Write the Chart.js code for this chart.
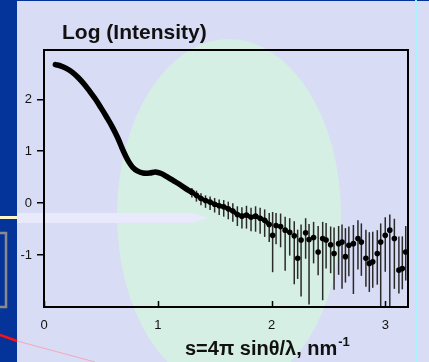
<!DOCTYPE html>
<html>
<head>
<meta charset="utf-8">
<script src="https://cdn.jsdelivr.net/npm/chart.js@4.4.1/dist/chart.umd.min.js"></script>
<style>
  body { margin: 0; background: #d8dcf4; }
  canvas { display: block; }
</style>
</head>
<body>
<canvas id="saxsChart" width="429" height="362"></canvas>
<script>
// smooth low-angle part of the curve
var curveX = [0.10, 0.15, 0.20, 0.25, 0.30, 0.35, 0.40, 0.45, 0.50, 0.55, 0.60, 0.65, 0.69, 0.72, 0.75, 0.78, 0.82, 0.87, 0.93, 0.98, 1.03, 1.08, 1.14, 1.20, 1.26, 1.30];
var curveY = [2.67, 2.64, 2.59, 2.52, 2.42, 2.30, 2.16, 2.01, 1.84, 1.66, 1.47, 1.25, 1.04, 0.90, 0.78, 0.69, 0.62, 0.58, 0.58, 0.60, 0.57, 0.51, 0.43, 0.35, 0.26, 0.21];

// noisy high-angle points with error bars
var tailX = [1.30, 1.34, 1.38, 1.42, 1.46, 1.50, 1.54, 1.58, 1.62, 1.66, 1.70, 1.74, 1.78, 1.82, 1.86, 1.90, 1.94, 1.98,
             2.01, 2.04, 2.08, 2.12, 2.16, 2.20, 2.23, 2.26, 2.30, 2.33, 2.37, 2.41, 2.45, 2.48, 2.52, 2.55, 2.59, 2.62,
             2.65, 2.68, 2.72, 2.76, 2.79, 2.83, 2.86, 2.89, 2.93, 2.96, 3.00, 3.04, 3.08, 3.12, 3.15, 3.18];
var tailY = [0.21, 0.15, 0.09, 0.05, 0.02, -0.02, -0.05, -0.07, -0.11, -0.15, -0.22, -0.25, -0.23, -0.27, -0.25, -0.29, -0.33, -0.41,
             -0.62, -0.43, -0.45, -0.52, -0.56, -0.63, -1.06, -0.71, -0.57, -0.70, -0.66, -0.94, -0.68, -0.71, -0.80, -0.97, -0.78, -0.75,
             -1.03, -0.81, -0.78, -0.68, -0.75, -1.06, -1.16, -1.13, -0.97, -0.75, -0.62, -0.52, -0.68, -1.29, -1.26, -0.94];
var errUp = [0.08, 0.09, 0.10, 0.10, 0.11, 0.12, 0.12, 0.13, 0.14, 0.15, 0.16, 0.17, 0.18, 0.18, 0.19, 0.20, 0.21, 0.22,
             0.45, 0.24, 0.25, 0.26, 0.27, 0.28, 0.55, 0.30, 0.28, 0.30, 0.30, 0.50, 0.32, 0.33, 0.35, 0.50, 0.34, 0.34,
             0.55, 0.36, 0.36, 0.35, 0.36, 0.55, 0.60, 0.58, 0.45, 0.36, 0.35, 0.30, 0.38, 0.65, 0.62, 0.50];
var errDown = [0.10, 0.12, 0.13, 0.14, 0.15, 0.16, 0.18, 0.19, 0.20, 0.21, 0.22, 0.24, 0.26, 0.27, 0.30, 0.30, 0.32, 0.34,
               0.71, 0.36, 0.40, 0.78, 0.45, 0.93, 0.40, 1.09, 0.50, 1.25, 0.50, 0.45, 1.19, 0.55, 0.55, 0.70, 0.60, 0.90,
               0.50, 0.60, 0.97, 0.60, 0.65, 0.55, 0.55, 0.50, 0.60, 1.25, 0.70, 1.48, 0.97, 0.45, 0.40, 0.55];

var xTicks = [0, 1, 2, 3];
var yTicks = [-1, 0, 1, 2];
var yTitle = 'Log (Intensity)';
var xTitle = 's=4\u03c0 sin\u03b8/\u03bb, nm';
var xTitleSup = '-1';

var FONT = '"Liberation Sans", Arial, sans-serif';

// slide decorations behind the chart
var slideBackground = {
  id: 'slideBackground',
  beforeDraw: function (chart) {
    var ctx = chart.ctx;
    ctx.save();
    ctx.fillStyle = '#d8dcf4';
    ctx.fillRect(0, 0, chart.width, chart.height);
    ctx.fillStyle = '#d6efe4';
    ctx.beginPath();
    ctx.ellipse(229, 215, 112, 176, 0, 0, Math.PI * 2);
    ctx.fill();
    // light arrow
    ctx.fillStyle = '#e8e9fb';
    ctx.beginPath();
    ctx.moveTo(17, 213);
    ctx.lineTo(192, 213);
    ctx.lineTo(208, 218);
    ctx.lineTo(192, 223);
    ctx.lineTo(17, 223);
    ctx.closePath();
    ctx.fill();
    // blue strip
    ctx.fillStyle = '#04349a';
    ctx.fillRect(0, 0, 17, chart.height);
    ctx.fillRect(0, 0, chart.width, 1);
    ctx.fillStyle = '#fbf6c8';
    ctx.fillRect(0, 216, 17, 3);
    ctx.strokeStyle = '#8a8a8a';
    ctx.lineWidth = 2.5;
    ctx.strokeRect(-4, 233, 10, 74);
    ctx.strokeStyle = '#ff1010';
    ctx.lineWidth = 2.5;
    ctx.beginPath();
    ctx.moveTo(0, 335);
    ctx.lineTo(17, 341);
    ctx.stroke();
    ctx.strokeStyle = '#f3a8c0';
    ctx.lineWidth = 1;
    ctx.beginPath();
    ctx.moveTo(17, 341);
    ctx.lineTo(95, 362);
    ctx.stroke();
    ctx.strokeStyle = '#a8f2ff';
    ctx.lineWidth = 2;
    ctx.beginPath();
    ctx.moveTo(416, 0);
    ctx.lineTo(416, chart.height);
    ctx.stroke();
    ctx.restore();
  }
};

var errorBars = {
  id: 'errorBars',
  beforeDatasetsDraw: function (chart) {
    var ctx = chart.ctx, xs = chart.scales.x, ys = chart.scales.y, a = chart.chartArea;
    ctx.save();
    ctx.beginPath();
    ctx.rect(a.left, a.top, a.right - a.left, a.bottom - a.top);
    ctx.clip();
    ctx.strokeStyle = '#2a2a2a';
    ctx.lineWidth = 1.5;
    for (var i = 0; i < tailX.length; i++) {
      var px = xs.getPixelForValue(tailX[i]);
      ctx.beginPath();
      ctx.moveTo(px, ys.getPixelForValue(tailY[i] + errUp[i]));
      ctx.lineTo(px, ys.getPixelForValue(tailY[i] - errDown[i]));
      ctx.stroke();
    }
    ctx.restore();
  }
};

var frameAndTitles = {
  id: 'frameAndTitles',
  afterDraw: function (chart) {
    var ctx = chart.ctx, a = chart.chartArea, xs = chart.scales.x;
    ctx.save();
    ctx.strokeStyle = '#000';
    ctx.lineWidth = 2;
    ctx.strokeRect(a.left, a.top, a.right - a.left, a.bottom - a.top);
    ctx.lineWidth = 1.5;
    xTicks.forEach(function (v) {
      var px = Math.round(xs.getPixelForValue(v)) + 0.5;
      ctx.beginPath();
      ctx.moveTo(px, a.bottom);
      ctx.lineTo(px, a.bottom - 6);
      ctx.stroke();
    });
    ctx.fillStyle = '#111';
    ctx.textBaseline = 'alphabetic';
    ctx.font = 'bold 21px ' + FONT;
    ctx.fillText(yTitle, 62, 39);
    ctx.font = 'bold 20px ' + FONT;
    ctx.fillText(xTitle, 185, 355);
    var w = ctx.measureText(xTitle).width;
    ctx.font = 'bold 13px ' + FONT;
    ctx.fillText(xTitleSup, 185 + w + 1, 346);
    ctx.restore();
  }
};

var saxsCanvas = document.getElementById('saxsChart');
var saxsChart = new Chart(saxsCanvas, {
  type: 'scatter',
  data: {
    datasets: [{
      label: 'curve',
      data: curveX.map(function (x, i) { return { x: x, y: curveY[i] }; }),
      showLine: true,
      borderColor: '#000',
      borderWidth: 5.5,
      borderCapStyle: 'round',
      borderJoinStyle: 'round',
      tension: 0.35,
      pointRadius: 0
    }, {
      label: 'tail',
      data: tailX.map(function (x, i) { return { x: x, y: tailY[i] }; }),
      showLine: true,
      borderColor: '#000',
      borderWidth: 4,
      pointRadius: 2.8,
      pointBorderWidth: 0,
      pointBackgroundColor: '#000',
      segment: {
        borderColor: function (c) { return c.p1.parsed.x < 1.99 ? '#000' : 'transparent'; }
      }
    }]
  },
  options: {
    responsive: false,
    animation: false,
    devicePixelRatio: 1,
    layout: { padding: { top: 50, right: 21, left: 0, bottom: 0 } },
    plugins: { legend: { display: false }, tooltip: { enabled: false } },
    scales: {
      x: {
        type: 'linear',
        min: 0,
        max: 3.2,
        afterBuildTicks: function (s) { s.ticks = xTicks.map(function (v) { return { value: v }; }); },
        afterFit: function (s) { s.height = 55; },
        grid: { drawOnChartArea: false, drawTicks: false },
        border: { color: '#000', width: 2 },
        ticks: { color: '#111', padding: 11, font: { family: FONT, size: 13 } }
      },
      y: {
        type: 'linear',
        min: -2,
        max: 2.95,
        afterBuildTicks: function (s) { s.ticks = yTicks.map(function (v) { return { value: v }; }); },
        afterFit: function (s) { s.width = 44; },
        grid: { drawOnChartArea: false, drawTicks: true, tickLength: 7, color: '#000', lineWidth: 1.5 },
        border: { color: '#000', width: 2 },
        ticks: { color: '#111', padding: 5, font: { family: FONT, size: 13 } }
      }
    }
  },
  plugins: [slideBackground, errorBars, frameAndTitles]
});
</script>
</body>
</html>
